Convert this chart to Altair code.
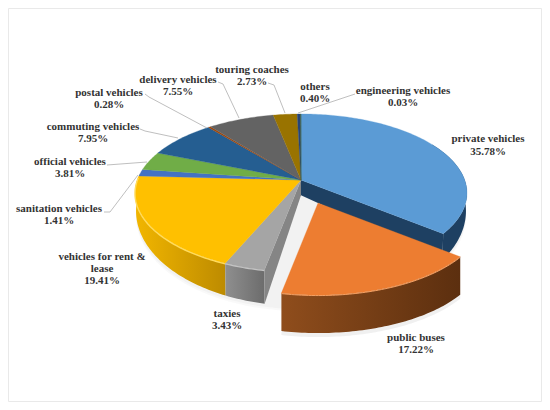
import math
import altair as alt

# ---- chart values ----
categories = ["private vehicles", "public buses", "taxies", "vehicles for rent & lease",
              "sanitation vehicles", "official vehicles", "commuting vehicles", "postal vehicles",
              "delivery vehicles", "touring coaches", "others", "engineering vehicles"]
shares = [35.78, 17.22, 3.43, 19.41, 1.41, 3.81, 7.95, 0.28, 7.55, 2.73, 0.40, 0.03]
colors = ["#5B9BD5", "#ED7D31", "#A5A5A5", "#FFC000", "#4472C4", "#70AD47",
          "#255E91", "#9E480E", "#636363", "#997300", "#264478", "#43682B"]

# ---- layout (page pixels) ----
PX, PY = 301.0, 180.0      # pivot of the pie
KX, PV, C = 163.7, 76.9, 0.1646   # perspective of the disc
EY0, ERY = 193.0, 79.0     # top ellipse centre and vertical radius
BY0, BRY = 211.0, 95.0     # bottom ellipse centre and vertical radius
XTAPER = 165.0 / 166.0
EXPLODE = (17.0, 23.0)
EX_DEPTH = 38.0
FONT = "Liberation Serif"
NAVY = "#1E4062"

labels = [
    (["private vehicles", "35.78%"], 488, 139, 13),
    (["public buses", "17.22%"], 416, 338, 12),
    (["taxies", "3.43%"], 227, 314, 12),
    (["vehicles for rent &", "lease", "19.41%"], 102, 257, 12),
    (["sanitation vehicles", "1.41%"], 59, 209, 12),
    (["official vehicles", "3.81%"], 70, 162, 12),
    (["commuting vehicles", "7.95%"], 93, 127, 12),
    (["postal vehicles", "0.28%"], 109, 93, 12),
    (["delivery vehicles", "7.55%"], 178, 80, 12),
    (["touring coaches", "2.73%"], 252, 70, 12),
    (["others", "0.40%"], 315, 87, 11.5),
    (["engineering vehicles", "0.03%"], 403, 91, 12),
]
leaders = [
    [(355, 94), (298, 113)],
    [(268, 83), (274, 85), (285, 113)],
    [(218, 82), (223, 84), (239, 118)],
    [(145, 94), (149, 97), (207, 128)],
    [(140, 129), (145, 131), (178, 138)],
    [(107, 165), (147, 162)],
    [(104, 212), (110, 212), (138, 175)],
]


def rim(theta_deg, dx=0.0, dy=0.0):
    t = math.radians(theta_deg)
    u, v = math.sin(t), math.cos(t)
    w = 1 + C * v
    return (PX + dx + KX * u / w, PY + dy - PV * v / w)


def arc(a, b, dx=0.0, dy=0.0):
    n = max(2, int(abs(b - a) / 1.0) + 2)
    return [rim(a + (b - a) * i / (n - 1), dx, dy) for i in range(n)]


def lower(p):
    """Point of the bottom ellipse under a point of the top rim."""
    s = (p[1] - EY0) / ERY
    return (PX + (p[0] - PX) * XTAPER, BY0 + BRY * s)


def poly(points):
    pts = [list(p) for p in points]
    pts.append(pts[0])
    return {"type": "Feature", "properties": {}, "geometry": {"type": "Polygon", "coordinates": [pts]}}


def path(points):
    return {"type": "Feature", "properties": {},
            "geometry": {"type": "LineString", "coordinates": [list(p) for p in points]}}


def shape(feature, **mark):
    return alt.Chart(alt.Data(values=[feature])).mark_geoshape(**mark).project(
        type="identity", scale=1, translate=[-8, -8])


def grad(left, right):
    return alt.Gradient(gradient="linear", x1=0, x2=1, y1=0, y2=0,
                        stops=[alt.GradientStop(color=left, offset=0), alt.GradientStop(color=right, offset=1)])


def wall(a, b):
    top = arc(a, b)
    return poly(top + [lower(p) for p in top][::-1])


# slice boundaries, clockwise from 12 o'clock
bounds = [0.0]
for s in shares:
    bounds.append(bounds[-1] + s * 3.6)
a0, a1, a2, a3, a4 = bounds[:5]
ex, ey = EXPLODE

layers = []

# frame
layers.append(shape(poly([(8.5, 8.5), (541.5, 8.5), (541.5, 401.5), (8.5, 401.5)]),
                    fill="transparent", stroke="#E9E9E9", strokeWidth=1))

# soft shadow of the body
for grow, op in [(5, 0.05), (3, 0.06)]:
    pts = [lower(p) for p in arc(55, 305)]
    layers.append(shape(poly([(x, y + grow) for x, y in pts]), fill="#808080", opacity=op, stroke=None))

# body: outer walls
layers.append(shape(wall(a0 + 60, a1), fill=NAVY, stroke=None))
layers.append(shape(wall(a3, 275), fill=grad("#F2B600", "#BD8B00"), stroke=None))
layers.append(shape(wall(a2, a3), fill=grad("#8F8F8F", "#6C6C6C"), stroke=None))

# cut faces
pivot_low = lower((PX, PY))
end = rim(a1)
layers.append(shape(poly([(PX, PY), end, lower(end), pivot_low]), fill=NAVY, stroke=None))
g = rim(a2)
layers.append(shape(poly([(PX, PY), g, lower(g), pivot_low]), fill="#858585", stroke=None))

# top faces of the disc
for i, c in enumerate(colors):
    if i == 1:
        continue
    layers.append(shape(poly([(PX, PY)] + arc(bounds[i], bounds[i + 1])), fill=c, stroke=c, strokeWidth=0.3))

# rim highlights
layers.append(shape(path(arc(a3, 272, 0, 0.5)), fill="transparent", stroke="#FFDB5C", strokeWidth=1.4))
layers.append(shape(path(arc(a2, a3, 0, 0.5)), fill="transparent", stroke="#C4C4C4", strokeWidth=1.2))

# exploded slice
o_top = arc(a1, a2, ex, ey)
o_low = [(x, y + EX_DEPTH) for x, y in o_top]
layers.append(shape(poly([(x, y + 4) for x, y in o_low] + o_low[::-1]), fill="#808080", opacity=0.12, stroke=None))
layers.append(shape(poly(o_top + o_low[::-1]), fill=grad("#8F4D1C", "#5C2F0F"), stroke=None))
layers.append(shape(poly([(PX + ex, PY + ey)] + o_top), fill=colors[1], stroke=colors[1], strokeWidth=0.3))
layers.append(shape(path(arc(a1, a2, ex, ey + 0.5)), fill="transparent", stroke="#F5A063", strokeWidth=1.0))

# leader lines
for pts in leaders:
    layers.append(shape(path(pts), fill="transparent", stroke="#BFBFBF", strokeWidth=1))

# labels
rows = []
for lines, cx, ty, step in labels:
    for j, line in enumerate(lines):
        rows.append({"t": line, "lon": cx, "lat": ty + j * step})
text = alt.Chart(alt.Data(values=rows)).mark_text(
    font=FONT, fontSize=11, fontWeight="bold", color="#333333", align="center", baseline="middle"
).encode(longitude="lon:Q", latitude="lat:Q", text="t:N").project(
    type="identity", scale=1, translate=[-8, -8])
layers.append(text)

chart = alt.layer(*layers).properties(
    width=534, height=394, padding=0, autosize=alt.AutoSizeParams(type="none")
).configure_view(stroke=None).configure(background="white")

chart.save("out.html", embed_options={"renderer": "svg", "actions": False})
